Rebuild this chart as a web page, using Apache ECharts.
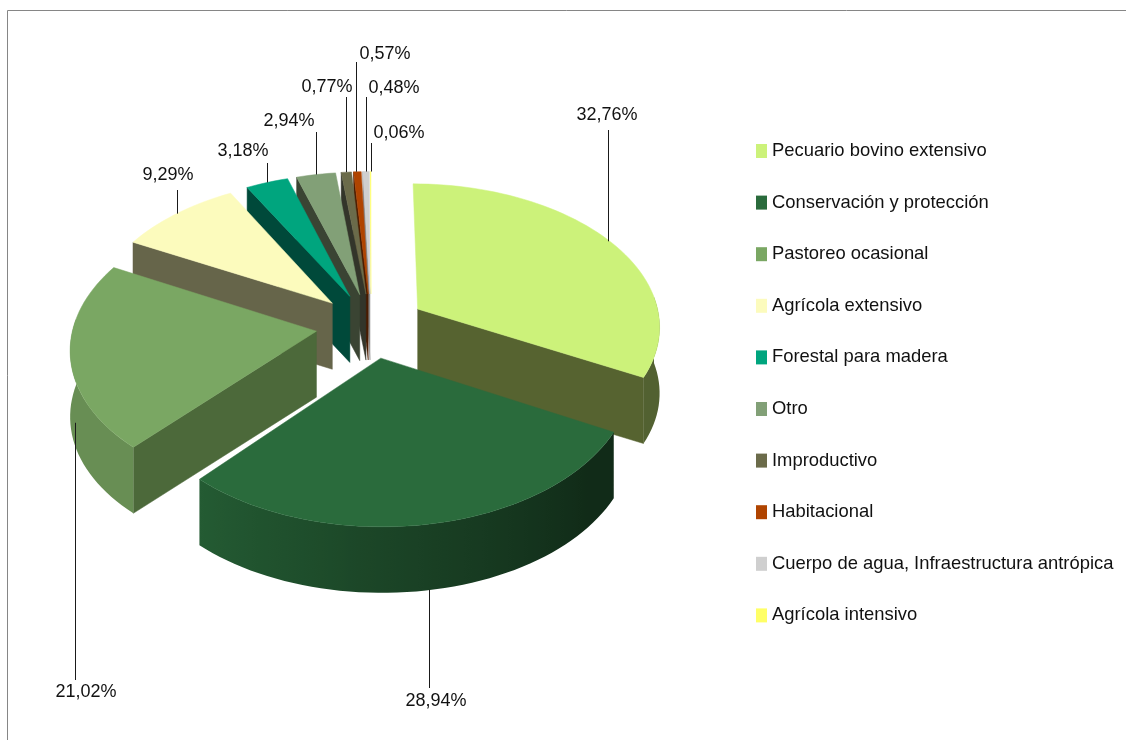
<!DOCTYPE html>
<html>
<head>
<meta charset="utf-8">
<style>
  html, body { margin: 0; padding: 0; background: #fff; }
  #main { width: 1126px; height: 740px; }
</style>
<script src="https://cdn.jsdelivr.net/npm/echarts@6/dist/echarts.min.js"></script>
</head>
<body>
<div id="main"></div>
<script>
const categories = ['Pecuario bovino extensivo', 'Conservación y protección', 'Pastoreo ocasional', 'Agrícola extensivo',
  'Forestal para madera', 'Otro', 'Improductivo', 'Habitacional', 'Cuerpo de agua, Infraestructura antrópica', 'Agrícola intensivo']
const values = [32.76, 28.94, 21.02, 9.29, 3.18, 2.94, 0.77, 0.57, 0.48, 0.06]

// colours
const topColors = ['#CCF27A', '#2A6B3C', '#7AA763', '#FCFBBD', '#00A57E', '#82A077', '#6B6B4A', '#B04400', '#CFCFCF', '#FFFF66']
const cutColors = ['#566330', '#0F2A17', '#4C693A', '#66654A', '#00493A', '#3A4433', '#33352A', '#4A1C00', '#8A8A8A', '#A0A040']
// paint order, back slices first
const paintOrder = [9, 8, 7, 6, 5, 4, 3, 2, 0, 1]

// label layout: centre of the text, y where the leader ends, how far down the wall it starts, sideways nudge
const labelCenters = [[607, 115], [436, 701], [86, 692], [168, 175], [243, 151], [289, 121], [327, 87], [385, 54], [394, 88], [399, 133]]
const leaderEnds = [130, 688, 680, 190, 163, 132, 97, 62, 97, 143]
const leaderDepth = [0, 1, 1, 0, 0, 0, 0, 0, 0, 0]
const leaderNudge = [-2, -2, 5, 0, 0, 0, 0, -1, 0, 0]

// projection of the tilted pie
const cx = 371, cy = 325.5, radius = 243, tilt = 0.586, persp = 0.11, explode = 0.227, depth = 66

const total = values.reduce((a, b) => a + b, 0)
const startAngles = []
values.reduce((acc, v, i) => { startAngles[i] = acc; return acc + v / total * 360 }, 0)

function project(u, v, z) {
  const f = 1 / (1 - persp * v)
  return [cx + radius * u * f, cy + radius * tilt * v * f + (z || 0)]
}
function rad(a) { return a * Math.PI / 180 }
function shade(hex, m) {
  const n = parseInt(hex.slice(1), 16)
  const c = [n >> 16, (n >> 8) & 255, n & 255].map(x => Math.round(x * m))
  return `rgb(${c[0]},${c[1]},${c[2]})`
}
// outer wall gets lighter going from the right round to the left
function wallFactor(a) {
  const t = Math.min(1, Math.max(0, (a - 130) / 92))
  return 0.4 + 0.45 * t
}

function renderSlice(idx) {
  return function (params, api) {
    const sweep = api.value(0) / total * 360
    const start = startAngles[idx]
    const end = start + sweep
    const mid = start + sweep / 2
    const ox = explode * Math.sin(rad(mid)), oy = -explode * Math.cos(rad(mid))
    const rim = (a, z) => project(ox + Math.sin(rad(a)), oy - Math.cos(rad(a)), z)
    const apex = z => project(ox, oy, z)
    const children = []
    const poly = (points, fill) => children.push({
      type: 'polygon', shape: { points }, silent: true,
      style: { fill, stroke: fill, lineWidth: 0.5 }
    })
    // only the cut faces that look towards the viewer
    if (Math.sin(rad(start)) < -0.01) poly([apex(0), rim(start, 0), rim(start, depth), apex(depth)], cutColors[idx])
    if (Math.sin(rad(end)) > 0.01) poly([apex(0), rim(end, 0), rim(end, depth), apex(depth)], cutColors[idx])
    // outer wall, front part only
    const a0 = Math.max(start, 85), a1 = Math.min(end, 275)
    if (a1 > a0) {
      const pts = [], back = [], stops = []
      const n = Math.ceil((a1 - a0) / 2)
      const x0 = rim(a0, 0)[0], x1 = rim(a1, 0)[0]
      for (let s = 0; s <= n; s++) {
        const a = a0 + (a1 - a0) * s / n
        pts.push(rim(a, 0))
        back.unshift(rim(a, depth))
        stops.push({
          offset: Math.min(1, Math.max(0, (rim(a, 0)[0] - x0) / (x1 - x0))),
          color: shade(topColors[idx], wallFactor(a))
        })
      }
      const grad = new echarts.graphic.LinearGradient(x0, 0, x1, 0, stops, true)
      children.push({
        type: 'polygon', shape: { points: pts.concat(back) }, silent: true,
        style: { fill: grad }
      })
    }
    // top
    const steps = Math.max(1, Math.ceil(sweep / 2))
    const top = [apex(0)]
    for (let s = 0; s <= steps; s++) top.push(rim(start + sweep * s / steps, 0))
    poly(top, topColors[idx])
    // leader and label
    const from = rim(mid, depth * leaderDepth[idx])
    const lx = Math.round(from[0]) + leaderNudge[idx] + 0.5
    children.push({
      type: 'line', silent: true,
      shape: { x1: lx, y1: from[1], x2: lx, y2: leaderEnds[idx] },
      style: { stroke: '#1a1a1a', lineWidth: 1 }
    })
    children.push({
      type: 'text', silent: true, x: labelCenters[idx][0], y: labelCenters[idx][1],
      style: {
        text: api.value(0).toFixed(2).replace('.', ',') + '%',
        fill: '#111', font: '18px "Liberation Sans"', align: 'center', verticalAlign: 'middle'
      }
    })
    return { type: 'group', children }
  }
}

const series = categories.map((name, i) => ({
  type: 'custom',
  name,
  coordinateSystem: 'none',
  z: 2 + paintOrder.indexOf(i),
  itemStyle: { color: topColors[i] },
  renderItem: renderSlice(i),
  data: [[values[i]]],
  animation: false
}))

const chart = echarts.init(document.getElementById('main'), null, { renderer: 'canvas' })
chart.setOption({
  backgroundColor: '#fff',
  animation: false,
  legend: {
    orient: 'vertical',
    left: 756,
    top: 142,
    data: categories,
    icon: 'rect',
    itemWidth: 11,
    itemHeight: 14,
    itemGap: 33.6,
    padding: 0,
    selectedMode: false,
    textStyle: { color: '#111', fontSize: 18.4, fontFamily: 'Liberation Sans' }
  },
  graphic: [
    { type: 'line', silent: true, shape: { x1: 7.5, y1: 10.5, x2: 7.5, y2: 740 }, style: { stroke: '#868686', lineWidth: 1 } },
    { type: 'line', silent: true, shape: { x1: 7.5, y1: 10.5, x2: 1126, y2: 10.5 }, style: { stroke: '#868686', lineWidth: 1 } }
  ],
  series
})
</script>
</body>
</html>
